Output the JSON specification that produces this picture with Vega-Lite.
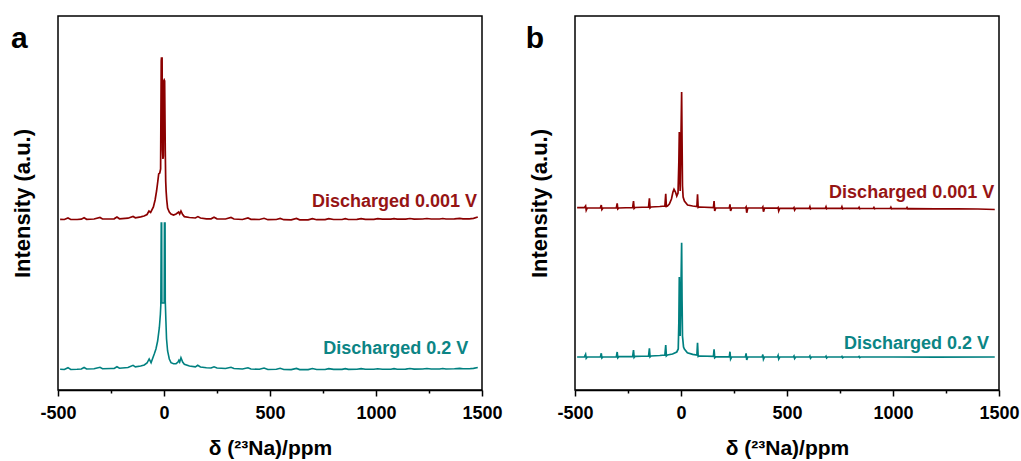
{
"$schema": "https://vega.github.io/schema/vega-lite/v6.json",
"padding": {"left": 10, "top": 15, "right": 5, "bottom": 0},
"background": "white",
"datasets": {
"ar": [
{"x":-490,"y":170.7},{"x":-470,"y":170.5},{"x":-453,"y":172},{"x":-440,"y":170.5},{"x":-410,"y":170.5},{"x":-390,"y":170.8},{"x":-377,"y":172.2},{"x":-365,"y":170.7},{"x":-330,"y":171},{"x":-302,"y":172.5},{"x":-290,"y":171},{"x":-250,"y":171},{"x":-235,"y":171.2},{"x":-222,"y":173},{"x":-210,"y":171.2},{"x":-170,"y":171.8},{"x":-146,"y":173.5},{"x":-135,"y":172.2},{"x":-110,"y":173.2},{"x":-94,"y":174},{"x":-80,"y":175.5},{"x":-71,"y":179},{"x":-63,"y":177.5},{"x":-50,"y":183},{"x":-42,"y":190},{"x":-35,"y":199},{"x":-29,"y":209},{"x":-25,"y":216},{"x":-20,"y":217},{"x":-16,"y":221},{"x":-13,"y":329},{"x":-12,"y":332},{"x":-9,"y":332},{"x":-7,"y":240},{"x":-5,"y":231},{"x":-3,"y":234},{"x":-1,"y":309},{"x":1,"y":310},{"x":3,"y":309},{"x":6,"y":239},{"x":8,"y":209},{"x":10,"y":199},{"x":13,"y":190},{"x":17,"y":182},{"x":25,"y":178},{"x":33,"y":176},{"x":45,"y":175},{"x":57,"y":176},{"x":69,"y":178},{"x":74,"y":176},{"x":80,"y":179},{"x":88,"y":175.5},{"x":96,"y":173.4},{"x":120,"y":172.5},{"x":148,"y":172},{"x":160,"y":173.4},{"x":172,"y":172},{"x":200,"y":171.2},{"x":222,"y":171.2},{"x":236,"y":172.7},{"x":250,"y":171.2},{"x":290,"y":171},{"x":316,"y":172.5},{"x":330,"y":171},{"x":370,"y":170.5},{"x":396,"y":172},{"x":410,"y":170.7},{"x":450,"y":170.5},{"x":472,"y":171.7},{"x":490,"y":170.3},{"x":530,"y":170.5},{"x":548,"y":171.5},{"x":565,"y":170.3},{"x":600,"y":170.2},{"x":625,"y":171.5},{"x":640,"y":170.2},{"x":680,"y":170.2},{"x":700,"y":171.4},{"x":720,"y":170.3},{"x":760,"y":170.4},{"x":777,"y":171.3},{"x":800,"y":170.5},{"x":840,"y":170.5},{"x":855,"y":171.3},{"x":870,"y":170.5},{"x":910,"y":170.7},{"x":930,"y":171.4},{"x":950,"y":170.7},{"x":990,"y":170.7},{"x":1008,"y":171.3},{"x":1030,"y":170.8},{"x":1070,"y":170.8},{"x":1085,"y":171.4},{"x":1100,"y":170.8},{"x":1140,"y":170.9},{"x":1160,"y":171.5},{"x":1180,"y":170.9},{"x":1220,"y":171},{"x":1240,"y":171.5},{"x":1260,"y":171},{"x":1300,"y":171},{"x":1315,"y":171.5},{"x":1330,"y":171},{"x":1370,"y":171.2},{"x":1395,"y":171.6},{"x":1410,"y":171.2},{"x":1440,"y":171.2},{"x":1460,"y":171.6},{"x":1480,"y":173}
],
"at": [
{"x":-490,"y":20.7},{"x":-470,"y":20.5},{"x":-453,"y":22.3},{"x":-440,"y":20.5},{"x":-410,"y":20.7},{"x":-390,"y":21},{"x":-377,"y":22.5},{"x":-365,"y":21},{"x":-330,"y":21.2},{"x":-302,"y":22.7},{"x":-290,"y":21.2},{"x":-250,"y":21.5},{"x":-235,"y":21.5},{"x":-222,"y":23.2},{"x":-210,"y":21.7},{"x":-170,"y":22.5},{"x":-146,"y":24.7},{"x":-135,"y":23.2},{"x":-110,"y":24},{"x":-93,"y":25},{"x":-80,"y":27},{"x":-70,"y":31},{"x":-61,"y":27.3},{"x":-46,"y":36},{"x":-38,"y":41},{"x":-30,"y":49},{"x":-22,"y":62.3},{"x":-17,"y":76},{"x":-15,"y":85},{"x":-13,"y":167},{"x":-11,"y":167},{"x":-10,"y":87},{"x":1,"y":87},{"x":2,"y":167},{"x":5,"y":167},{"x":6,"y":89},{"x":9,"y":69},{"x":12,"y":51},{"x":17,"y":39},{"x":25,"y":31},{"x":33,"y":27.3},{"x":45,"y":26.3},{"x":57,"y":26.3},{"x":66,"y":28},{"x":70,"y":29.7},{"x":74,"y":28},{"x":80,"y":32.3},{"x":88,"y":28},{"x":96,"y":25.7},{"x":120,"y":24},{"x":148,"y":23.2},{"x":159,"y":24.7},{"x":172,"y":23},{"x":200,"y":22.2},{"x":222,"y":22},{"x":236,"y":23.2},{"x":250,"y":22},{"x":290,"y":21.5},{"x":316,"y":22.7},{"x":330,"y":21.5},{"x":370,"y":21},{"x":396,"y":22.2},{"x":410,"y":21},{"x":450,"y":20.7},{"x":472,"y":22},{"x":490,"y":20.5},{"x":530,"y":20.7},{"x":548,"y":21.7},{"x":565,"y":20.5},{"x":600,"y":20.4},{"x":625,"y":21.6},{"x":640,"y":20.4},{"x":680,"y":20.4},{"x":700,"y":21.5},{"x":720,"y":20.5},{"x":760,"y":20.5},{"x":777,"y":21.4},{"x":800,"y":20.6},{"x":840,"y":20.6},{"x":855,"y":21.4},{"x":870,"y":20.6},{"x":910,"y":20.7},{"x":930,"y":21.4},{"x":950,"y":20.7},{"x":990,"y":20.7},{"x":1008,"y":21.3},{"x":1030,"y":20.8},{"x":1070,"y":20.8},{"x":1085,"y":21.4},{"x":1100,"y":20.8},{"x":1140,"y":20.9},{"x":1160,"y":21.5},{"x":1180,"y":20.9},{"x":1220,"y":21},{"x":1240,"y":21.5},{"x":1260,"y":21},{"x":1300,"y":21},{"x":1315,"y":21.5},{"x":1330,"y":21},{"x":1370,"y":21.2},{"x":1395,"y":21.6},{"x":1410,"y":21.2},{"x":1440,"y":21.2},{"x":1460,"y":21.6},{"x":1480,"y":22.5}
],
"br": [
{"x":-490,"y":182.3},{"x":-456,"y":182.3},{"x":-450,"y":184},{"x":-447,"y":179.7},{"x":-442,"y":182},{"x":-380,"y":182.2},{"x":-376,"y":185},{"x":-373,"y":180.5},{"x":-368,"y":182},{"x":-305,"y":182.2},{"x":-301,"y":186.7},{"x":-298,"y":181},{"x":-293,"y":182},{"x":-228,"y":182.5},{"x":-224,"y":189},{"x":-221,"y":181.5},{"x":-216,"y":182.5},{"x":-153,"y":183},{"x":-149,"y":191.7},{"x":-146,"y":182},{"x":-141,"y":183},{"x":-100,"y":183.5},{"x":-76,"y":184},{"x":-72,"y":196.3},{"x":-69,"y":183.5},{"x":-64,"y":184},{"x":-55,"y":186},{"x":-45,"y":191},{"x":-38,"y":198},{"x":-33,"y":200.7},{"x":-26,"y":198},{"x":-20,"y":194},{"x":-14,"y":197},{"x":-10,"y":229},{"x":-8,"y":258},{"x":-6,"y":219},{"x":-4,"y":199},{"x":-1,"y":239},{"x":3,"y":298},{"x":5,"y":249},{"x":7,"y":204},{"x":10,"y":193},{"x":16,"y":189},{"x":31,"y":185},{"x":55,"y":184},{"x":75,"y":183.5},{"x":78,"y":195.7},{"x":81,"y":182.5},{"x":86,"y":183},{"x":153,"y":182.5},{"x":156,"y":189},{"x":159,"y":179},{"x":164,"y":182},{"x":228,"y":182.2},{"x":231,"y":185.7},{"x":234,"y":179},{"x":239,"y":182},{"x":304,"y":182},{"x":307,"y":183},{"x":310,"y":177.3},{"x":315,"y":182},{"x":383,"y":182},{"x":386,"y":183},{"x":389,"y":178.3},{"x":394,"y":181.8},{"x":455,"y":181.8},{"x":458,"y":182.5},{"x":461,"y":179},{"x":466,"y":181.7},{"x":530,"y":181.7},{"x":533,"y":182.5},{"x":536,"y":180},{"x":541,"y":181.7},{"x":605,"y":181.7},{"x":608,"y":183.3},{"x":611,"y":181},{"x":616,"y":181.7},{"x":681,"y":181.7},{"x":684,"y":183.3},{"x":687,"y":181.2},{"x":692,"y":181.7},{"x":756,"y":181.7},{"x":759,"y":183.3},{"x":762,"y":181.2},{"x":767,"y":181.6},{"x":837,"y":181.6},{"x":840,"y":182.7},{"x":843,"y":181.2},{"x":848,"y":181.5},{"x":907,"y":181.5},{"x":910,"y":182.5},{"x":913,"y":181.2},{"x":918,"y":181.5},{"x":987,"y":181.5},{"x":990,"y":182.7},{"x":993,"y":181.2},{"x":998,"y":181.4},{"x":1063,"y":181.4},{"x":1066,"y":182.4},{"x":1069,"y":181.1},{"x":1074,"y":181.3},{"x":1200,"y":181.2},{"x":1300,"y":181.2},{"x":1400,"y":181},{"x":1480,"y":180.5}
],
"bt": [
{"x":-490,"y":33},{"x":-456,"y":33},{"x":-450,"y":35.7},{"x":-447,"y":31.7},{"x":-442,"y":33},{"x":-380,"y":33},{"x":-376,"y":36.7},{"x":-373,"y":32},{"x":-368,"y":33},{"x":-305,"y":33.2},{"x":-301,"y":38},{"x":-298,"y":32.2},{"x":-293,"y":33.3},{"x":-228,"y":33.5},{"x":-224,"y":40},{"x":-221,"y":32.5},{"x":-216,"y":33.7},{"x":-153,"y":34},{"x":-149,"y":41.7},{"x":-146,"y":33},{"x":-141,"y":34},{"x":-100,"y":34.5},{"x":-76,"y":35},{"x":-72,"y":45},{"x":-69,"y":34},{"x":-64,"y":35},{"x":-40,"y":36},{"x":-20,"y":38},{"x":-13,"y":41},{"x":-10,"y":69},{"x":-8,"y":113},{"x":-6,"y":69},{"x":-4,"y":54},{"x":-1,"y":89},{"x":3,"y":147.3},{"x":5,"y":89},{"x":7,"y":54},{"x":12,"y":43},{"x":16,"y":41},{"x":30,"y":37.3},{"x":55,"y":35.7},{"x":75,"y":35},{"x":78,"y":47.3},{"x":81,"y":33.5},{"x":86,"y":34},{"x":153,"y":33.7},{"x":156,"y":40.7},{"x":159,"y":32.3},{"x":164,"y":33.2},{"x":228,"y":33.2},{"x":231,"y":38.3},{"x":234,"y":31},{"x":239,"y":33},{"x":304,"y":33},{"x":307,"y":36.7},{"x":310,"y":30},{"x":315,"y":33},{"x":383,"y":33},{"x":386,"y":35.5},{"x":389,"y":30.7},{"x":394,"y":33},{"x":455,"y":33},{"x":458,"y":34.5},{"x":461,"y":31},{"x":466,"y":33},{"x":530,"y":33},{"x":533,"y":34},{"x":536,"y":31.5},{"x":541,"y":33},{"x":605,"y":33},{"x":608,"y":34},{"x":611,"y":31.8},{"x":616,"y":33},{"x":681,"y":33},{"x":684,"y":33.8},{"x":687,"y":32},{"x":692,"y":33},{"x":756,"y":33},{"x":759,"y":33.6},{"x":762,"y":32.2},{"x":767,"y":33},{"x":837,"y":33},{"x":840,"y":33.5},{"x":843,"y":32.4},{"x":848,"y":33},{"x":1000,"y":33},{"x":1200,"y":32.8},{"x":1480,"y":33}
],
"lab": [
{"p":"a","t":"Discharged 0.001 V","x":1087,"y":183,"c":"r"},
{"p":"a","t":"Discharged 0.2 V","x":1093,"y":36.3,"c":"t"},
{"p":"b","t":"Discharged 0.001 V","x":1088,"y":192.3,"c":"r"},
{"p":"b","t":"Discharged 0.2 V","x":1111,"y":40.7,"c":"t"}
],
"let": [
{"p":"a","t":"a","x":-721.7,"y":342},
{"p":"b","t":"b","x":-732.5,"y":342.3}
]
},
"hconcat": [
{
"width": 424, "height": 374,
"layer": [
{"data":{"name":"ar"},"mark":{"type":"line","strokeWidth":1.7,"color":"#8b0000"},
"encoding":{
"x":{"field":"x","type":"quantitative","scale":{"domain":[-500,1500],"nice":false,"zero":false},
"axis":{"title":"δ (²³Na)/ppm","values":[-500,-250,0,250,500,750,1000,1250,1500],"labelExpr":"datum.value % 500 === 0 ? '' + datum.value : ''","labelFontSize":18,"labelPadding":8,"labelOverlap":false,"labelFlush":false,"tickSize":{"condition":{"test":"datum.value % 500 === 0","value":6},"value":3},"tickWidth":1.5,"domainWidth":1.5,"titleFontSize":21,"titlePadding":15}},
"y":{"field":"y","type":"quantitative","scale":{"domain":[0,374],"nice":false,"zero":false},
"axis":{"title":"Intensity (a.u.)","labels":false,"ticks":false,"domain":false,"titleFontSize":22,"titlePadding":24}}}},
{"data":{"name":"at"},"mark":{"type":"line","strokeWidth":1.6,"color":"#008080"},
"encoding":{"x":{"field":"x","type":"quantitative"},"y":{"field":"y","type":"quantitative"}}},
{"data":{"name":"lab"},"transform":[{"filter":"datum.p === 'a'"}],
"mark":{"type":"text","fontSize":18,"fontWeight":"bold","font":"Liberation Sans","align":"center","baseline":"alphabetic"},
"encoding":{"x":{"field":"x","type":"quantitative"},"y":{"field":"y","type":"quantitative"},"text":{"field":"t"},
"color":{"field":"c","type":"nominal","scale":{"domain":["r","t"],"range":["#961414","#0b8585"]},"legend":null}}},
{"data":{"name":"let"},"transform":[{"filter":"datum.p === 'a'"}],
"mark":{"type":"text","fontSize":30,"fontWeight":"bold","font":"Liberation Sans","align":"left","baseline":"alphabetic","color":"black"},
"encoding":{"x":{"field":"x","type":"quantitative"},"y":{"field":"y","type":"quantitative"},"text":{"field":"t"}}}
]
},
{
"width": 424, "height": 374,
"layer": [
{"data":{"name":"br"},"mark":{"type":"line","strokeWidth":1.7,"color":"#8b0000"},
"encoding":{
"x":{"field":"x","type":"quantitative","scale":{"domain":[-500,1500],"nice":false,"zero":false},
"axis":{"title":"δ (²³Na)/ppm","values":[-500,-250,0,250,500,750,1000,1250,1500],"labelExpr":"datum.value % 500 === 0 ? '' + datum.value : ''","labelFontSize":18,"labelPadding":8,"labelOverlap":false,"labelFlush":false,"tickSize":{"condition":{"test":"datum.value % 500 === 0","value":6},"value":3},"tickWidth":1.5,"domainWidth":1.5,"titleFontSize":21,"titlePadding":15}},
"y":{"field":"y","type":"quantitative","scale":{"domain":[0,374],"nice":false,"zero":false},
"axis":{"title":"Intensity (a.u.)","labels":false,"ticks":false,"domain":false,"titleFontSize":22,"titlePadding":24}}}},
{"data":{"name":"bt"},"mark":{"type":"line","strokeWidth":1.7,"color":"#008080"},
"encoding":{"x":{"field":"x","type":"quantitative"},"y":{"field":"y","type":"quantitative"}}},
{"data":{"name":"lab"},"transform":[{"filter":"datum.p === 'b'"}],
"mark":{"type":"text","fontSize":18,"fontWeight":"bold","font":"Liberation Sans","align":"center","baseline":"alphabetic"},
"encoding":{"x":{"field":"x","type":"quantitative"},"y":{"field":"y","type":"quantitative"},"text":{"field":"t"},
"color":{"field":"c","type":"nominal","scale":{"domain":["r","t"],"range":["#961414","#0b8585"]},"legend":null}}},
{"data":{"name":"let"},"transform":[{"filter":"datum.p === 'b'"}],
"mark":{"type":"text","fontSize":30,"fontWeight":"bold","font":"Liberation Sans","align":"left","baseline":"alphabetic","color":"black"},
"encoding":{"x":{"field":"x","type":"quantitative"},"y":{"field":"y","type":"quantitative"},"text":{"field":"t"}}}
]
}
],
"spacing": 93,
"bounds": "flush",
"config": {
"font": "Liberation Sans",
"view": {"stroke": "black", "strokeWidth": 1.5},
"axis": {"grid": false, "labelFont": "Liberation Sans", "titleFont": "Liberation Sans", "labelFontWeight": "bold", "titleFontWeight": "bold", "labelColor": "black", "titleColor": "black", "domainColor": "black", "tickColor": "black"}
}
}
